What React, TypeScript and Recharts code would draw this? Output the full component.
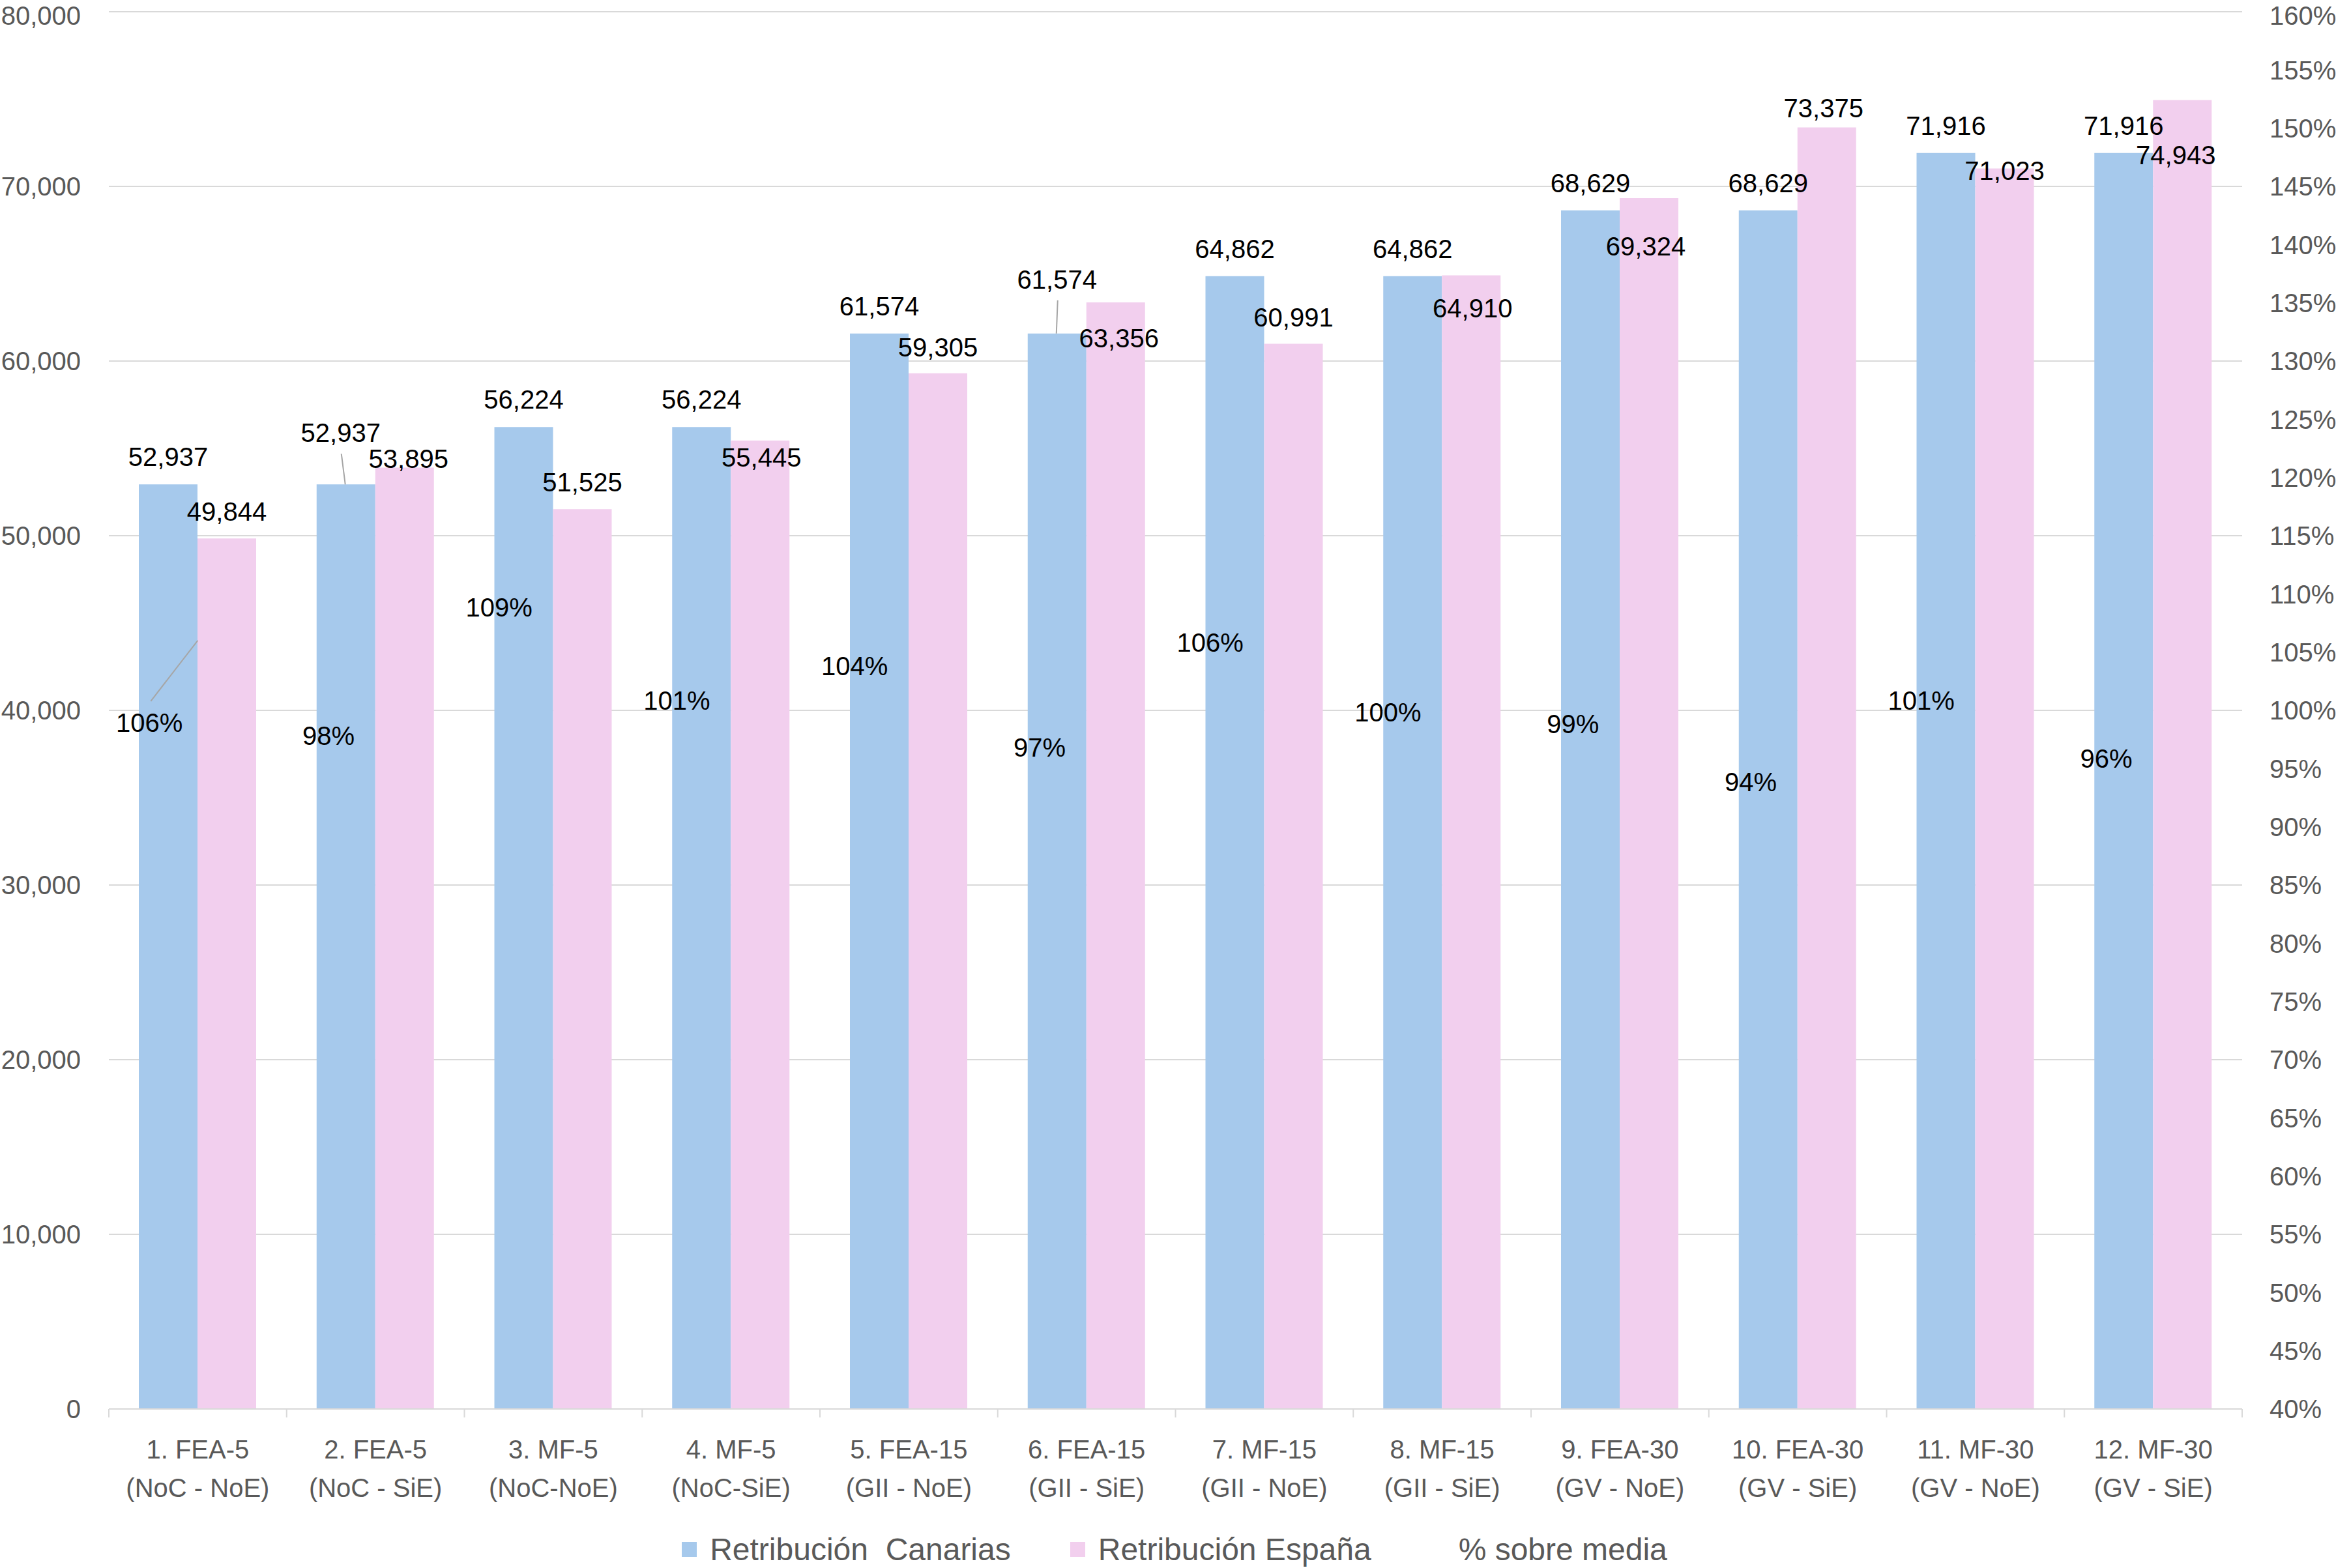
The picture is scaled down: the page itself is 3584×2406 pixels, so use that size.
import React from 'react';
import { ComposedChart, Bar, Line, XAxis, YAxis, CartesianGrid, Legend, LabelList } from 'recharts';

const puestos = ['1. FEA-5', '2. FEA-5', '3. MF-5', '4. MF-5', '5. FEA-15', '6. FEA-15', '7. MF-15', '8. MF-15', '9. FEA-30', '10. FEA-30', '11. MF-30', '12. MF-30'];
const grupos = ['(NoC - NoE)', '(NoC - SiE)', '(NoC-NoE)', '(NoC-SiE)', '(GII - NoE)', '(GII - SiE)', '(GII - NoE)', '(GII - SiE)', '(GV - NoE)', '(GV - SiE)', '(GV - NoE)', '(GV - SiE)'];
const retribucionCanarias = [52937, 52937, 56224, 56224, 61574, 61574, 64862, 64862, 68629, 68629, 71916, 71916];
const retribucionEspana = [49844, 53895, 51525, 55445, 59305, 63356, 60991, 64910, 69324, 73375, 71023, 74943];
const sobreMedia = [106, 98, 109, 101, 104, 97, 106, 100, 99, 94, 101, 96];

const leftTicks = [0, 10000, 20000, 30000, 40000, 50000, 60000, 70000, 80000];
const rightTicks = [40, 45, 50, 55, 60, 65, 70, 75, 80, 85, 90, 95, 100, 105, 110, 115, 120, 125, 130, 135, 140, 145, 150, 155, 160];

// hand-moved data labels (dx, dy from the bar top), as in the original workbook
const canariasNudge = [[0, -42], [-8, -79], [0, -42], [0, -42], [0, -42], [0, -83], [0, -42], [0, -42], [0, -42], [0, -42], [0, -42], [0, -42]];
const espanaNudge = [[0, -41], [6, -14], [0, -41], [2, 26], [0, -40], [5, 55], [0, -40], [2, 51], [-5, 74], [-5, -30], [0, 3], [-10, 84]];
const canariasLeader = [1, 5];

const data = puestos.map((p, i) => ({
  name: p,
  canarias: retribucionCanarias[i],
  espana: retribucionEspana[i],
  pct: sobreMedia[i],
}));

const FONT = '"Liberation Sans", Arial, sans-serif';
const GREY = '#595959';
const GRID = '#d9d9d9';
const BLUE = '#a6c9ec';
const PINK = '#f2cfee';

const fmt = (v: number) => v.toLocaleString('en-US');

function CategoryTick(props: any) {
  const { x, y, payload } = props;
  const i = props.index ?? payload.index;
  const half = payload.offset || 136.4;
  return (
    <g>
      <line x1={x - half} y1={y} x2={x - half} y2={y + 13} stroke={GRID} strokeWidth={2} />
      {i === puestos.length - 1 && <line x1={x + half} y1={y} x2={x + half} y2={y + 13} stroke={GRID} strokeWidth={2} />}
      <text x={x} y={y + 62} textAnchor="middle" dominantBaseline="central" fill={GREY} fontSize={40} fontFamily={FONT}>{puestos[i]}</text>
      <text x={x} y={y + 121} textAnchor="middle" dominantBaseline="central" fill={GREY} fontSize={40} fontFamily={FONT}>{grupos[i]}</text>
    </g>
  );
}

function barLabel(nudge: number[][], leaders: number[]) {
  return (props: any) => {
    const { x, y, width, value, index } = props;
    const cx = x + width / 2;
    const [dx, dy] = nudge[index];
    const lx = cx + dx;
    const ly = y + dy;
    return (
      <g>
        {leaders.includes(index) && <line x1={lx + 1} y1={ly + 32} x2={cx - 1} y2={y} stroke="#a6a6a6" strokeWidth={2} />}
        <text x={lx} y={ly} textAnchor="middle" dominantBaseline="central" fill="#000" fontSize={40} fontFamily={FONT}>{fmt(value)}</text>
      </g>
    );
  };
}

function PctLabel(props: any) {
  const x = props.x ?? props.viewBox?.x;
  const y = props.y ?? props.viewBox?.y;
  const { value, index } = props;
  if (index === 0) {
    const ex = x - 23;
    const ly = y + 126;
    return (
      <g>
        <line x1={x} y1={y} x2={ex - 49} y2={ly - 33} stroke="#a6a6a6" strokeWidth={2} />
        <text x={ex} y={ly} textAnchor="end" dominantBaseline="central" fill="#000" fontSize={40} fontFamily={FONT}>{value}%</text>
      </g>
    );
  }
  return (
    <text x={x - 32} y={y + 3} textAnchor="end" dominantBaseline="central" fill="#000" fontSize={40} fontFamily={FONT}>{value}%</text>
  );
}

const legendItems = [
  { label: 'Retribución\u00a0 Canarias', color: BLUE },
  { label: 'Retribución España', color: PINK },
  { label: '% sobre media', color: 'transparent' },
];

function LegendContent() {
  return (
    <div style={{ height: 58, paddingTop: 26, paddingLeft: 20, display: 'flex', justifyContent: 'center', alignItems: 'center', fontFamily: FONT }}>
      {legendItems.map((it, i) => (
        <div key={it.label} style={{ display: 'flex', alignItems: 'center', marginLeft: i === 0 ? 0 : 91 }}>
          <span style={{ width: 23, height: 23, background: it.color, display: 'inline-block', marginRight: 20 }} />
          <span style={{ fontSize: 48, color: GREY, whiteSpace: 'pre' }}>{it.label}</span>
        </div>
      ))}
    </div>
  );
}

export default function App() {
  return (
    <div style={{ position: 'absolute', left: 0, top: 0, width: 3584, height: 2406, background: '#fff', fontFamily: FONT }}>
      <ComposedChart width={3584} height={2406} data={data} margin={{ top: 18, right: 0, bottom: 0, left: 0 }} barGap={0} barSize={90}>
        <CartesianGrid yAxisId="left" vertical={false} stroke={GRID} strokeWidth={2} />
        <XAxis
          dataKey="name"
          interval={0}
          height={160}
          tickSize={0}
          tickMargin={0}
          tickLine={false}
          axisLine={{ stroke: GRID, strokeWidth: 2 }}
          tick={<CategoryTick />}
        />
        <YAxis
          yAxisId="left"
          orientation="left"
          width={167}
          domain={[0, 80000]}
          ticks={leftTicks}
          tickFormatter={fmt}
          axisLine={false}
          tickLine={false}
          tickSize={0}
          tickMargin={43}
          tick={{ fill: GREY, fontSize: 40, fontFamily: FONT }}
        />
        <YAxis
          yAxisId="right"
          orientation="right"
          width={144}
          domain={[40, 160]}
          ticks={rightTicks}
          tickFormatter={(v: number) => `${v}%`}
          axisLine={false}
          tickLine={false}
          tickSize={0}
          tickMargin={42}
          tick={{ fill: GREY, fontSize: 40, fontFamily: FONT }}
        />
        <Legend verticalAlign="bottom" content={<LegendContent />} />
        <Bar yAxisId="left" dataKey="canarias" name="Retribución Canarias" fill={BLUE} isAnimationActive={false}>
          <LabelList dataKey="canarias" content={barLabel(canariasNudge, canariasLeader)} />
        </Bar>
        <Bar yAxisId="left" dataKey="espana" name="Retribución España" fill={PINK} isAnimationActive={false}>
          <LabelList dataKey="espana" content={barLabel(espanaNudge, [])} />
        </Bar>
        <Line yAxisId="right" dataKey="pct" name="% sobre media" stroke="none" dot={false} activeDot={false} legendType="none" isAnimationActive={false}>
          <LabelList dataKey="pct" content={PctLabel} />
        </Line>
      </ComposedChart>
    </div>
  );
}
